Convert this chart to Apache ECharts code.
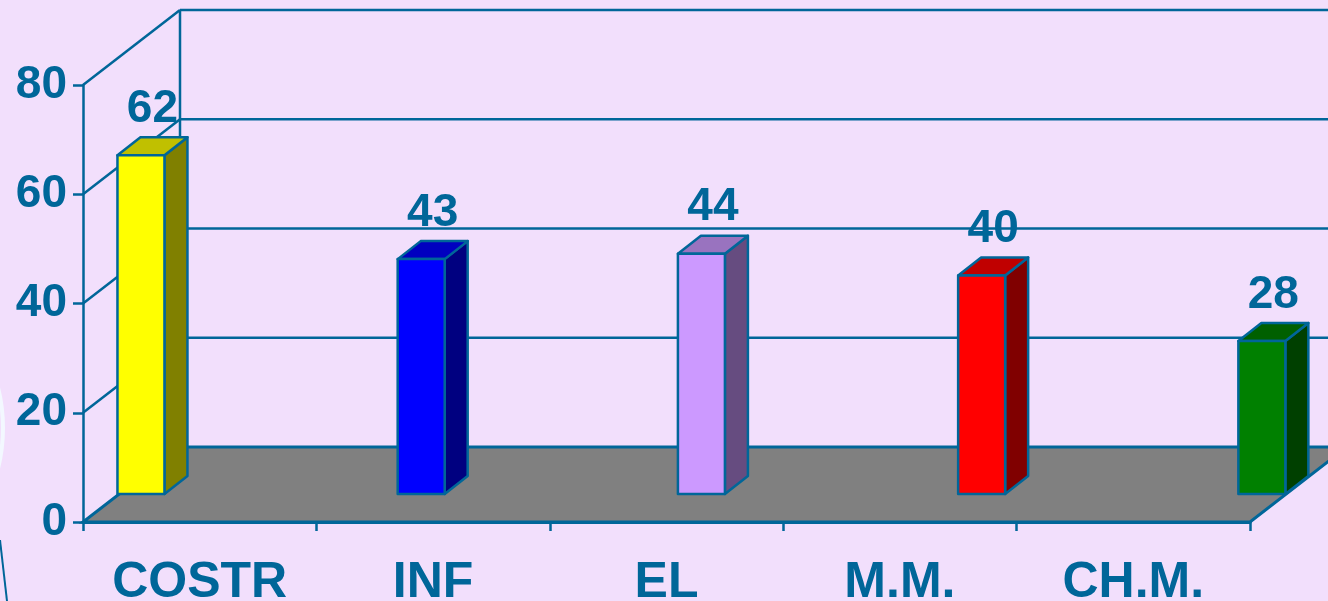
<!DOCTYPE html>
<html style="height: 100%">
<head>
  <meta charset="utf-8">
  <title>bar 3d</title>
</head>
<body style="height: 100%; margin: 0; background: #f2dffc">
<div id="container" style="height: 100%"></div>
<script src="https://cdn.jsdelivr.net/npm/echarts@6/dist/echarts.min.js"></script>
<script>
  var dom = document.getElementById("container");
  var myChart = echarts.init(dom);
  var option;

  // dati
  const categories = ['COSTR', 'INF', 'EL', 'M.M.', 'CH.M.'];
  const values = [62, 43, 44, 40, 28];
  const yTicks = [0, 20, 40, 60, 80];
  const frontColors = ['#ffff00', '#0000ff', '#cc99ff', '#ff0000', '#008000'];
  const topColors = ['#c0c000', '#0000c0', '#9973bf', '#c00000', '#006000'];
  const sideColors = ['#808000', '#000080', '#664c80', '#800000', '#004000'];

  const INK = '#006699';
  const FONT = 'Liberation Sans, Arial, sans-serif';
  // profondita' del "box" (pareti) e delle barre
  const DX = 97, DY = -75;
  const BDX = 23, BDY = -18, HALF = 23.5;

  function renderWalls(params, api) {
    var cs = params.coordSys;
    var x0 = cs.x, x1 = cs.x + cs.width;
    var y0 = api.coord([0, 0])[1];
    var children = [];
    // pavimento grigio
    children.push({
      type: 'polygon',
      shape: { points: [[x0, y0], [x1, y0], [x1 + DX, y0 + DY], [x0 + DX, y0 + DY]] },
      style: { fill: '#808080', stroke: INK, lineWidth: 3 }
    });
    yTicks.forEach(function (v) {
      var y = api.coord([0, v])[1];
      if (v > 0) {
        // griglia parete di fondo
        children.push({
          type: 'line',
          shape: { x1: x0 + DX, y1: y + DY, x2: x1 + DX, y2: y + DY },
          style: { stroke: INK, lineWidth: 2.5 }
        });
        // griglia parete sinistra
        children.push({
          type: 'line',
          shape: { x1: x0, y1: y, x2: x0 + DX, y2: y + DY },
          style: { stroke: INK, lineWidth: 2.5 }
        });
      }
    });
    var yTop = api.coord([0, yTicks[yTicks.length - 1]])[1];
    children.push({
      type: 'line',
      shape: { x1: x0 + DX, y1: y0 + DY, x2: x0 + DX, y2: yTop + DY },
      style: { stroke: INK, lineWidth: 2.5 }
    });
    return { type: 'group', children: children };
  }

  function renderBar(params, api) {
    var i = api.value(0);
    var b = api.coord([i, 0]);
    var t = api.coord([i, api.value(1)]);
    var l = b[0] - HALF, r = b[0] + HALF;
    var yb = b[1], yt = t[1];
    var border = { stroke: INK, lineWidth: 2.5, lineJoin: 'round' };
    return {
      type: 'group',
      children: [
        {
          type: 'polygon',
          shape: { points: [[r, yb], [r + BDX, yb + BDY], [r + BDX, yt + BDY], [r, yt]] },
          style: Object.assign({ fill: sideColors[i] }, border)
        },
        {
          type: 'polygon',
          shape: { points: [[l, yt], [l + BDX, yt + BDY], [r + BDX, yt + BDY], [r, yt]] },
          style: Object.assign({ fill: topColors[i] }, border)
        },
        {
          type: 'rect',
          shape: { x: l, y: yt, width: r - l, height: yb - yt },
          style: Object.assign({ fill: frontColors[i] }, border)
        },
        {
          type: 'text',
          x: b[0] + BDX / 2,
          y: yt + BDY - 28,
          style: {
            text: String(api.value(1)),
            fill: INK,
            font: 'bold 46px ' + FONT,
            align: 'center',
            verticalAlign: 'middle'
          }
        }
      ]
    };
  }

  option = {
    backgroundColor: '#f2dffc',
    animation: false,
    grid: [
      { left: 83, right: 78, top: 85, bottom: 79, outerBoundsMode: 'none', containLabel: false },
      // griglia delle barre (piano intermedio)
      { left: 0, right: 0, top: 57, height: 437, outerBoundsMode: 'none' }
    ],
    xAxis: [
      {
        type: 'category',
        gridIndex: 0,
        data: categories,
        boundaryGap: true,
        axisLine: { lineStyle: { color: INK, width: 3 } },
        axisTick: { show: true, length: 9, interval: 0, lineStyle: { color: INK, width: 2.5 } },
        axisLabel: { color: INK, fontWeight: 'bold', fontSize: 50, fontFamily: FONT, margin: 36, interval: 0 },
        splitLine: { show: false }
      },
      {
        // asse nascosto per la posizione delle barre
        type: 'value',
        gridIndex: 1,
        min: -0.503,
        max: 4.236,
        show: false,
        splitLine: { show: false }
      }
    ],
    yAxis: [
      {
        type: 'value',
        gridIndex: 0,
        min: 0, max: 80, interval: 20,
        axisLine: { show: true, lineStyle: { color: INK, width: 2.5 } },
        axisTick: { show: true, length: 10, lineStyle: { color: INK, width: 2.5 } },
        axisLabel: { color: INK, fontWeight: 'bold', fontSize: 46, fontFamily: FONT, margin: 16 },
        splitLine: { show: false }
      },
      {
        type: 'value',
        gridIndex: 1,
        min: 0, max: 80, interval: 20,
        show: false,
        splitLine: { show: false }
      }
    ],
    graphic: [
      {
        type: 'circle',
        shape: { cx: -163, cy: 428, r: 166 },
        style: { fill: 'none', stroke: '#f3f8ff', lineWidth: 4 },
        silent: true
      },
      {
        type: 'line',
        shape: { x1: 0, y1: 540, x2: 7, y2: 601 },
        style: { stroke: INK, lineWidth: 2 },
        silent: true
      }
    ],
    series: [
      {
        type: 'custom',
        xAxisIndex: 0,
        yAxisIndex: 0,
        z: 1,
        silent: true,
        renderItem: renderWalls,
        data: [[0, 0]]
      },
      {
        type: 'custom',
        xAxisIndex: 1,
        yAxisIndex: 1,
        z: 3,
        renderItem: renderBar,
        data: values.map(function (v, i) { return [i, v]; })
      }
    ]
  };

  if (option && typeof option === 'object') {
    myChart.setOption(option);
  }
</script>
</body>
</html>
